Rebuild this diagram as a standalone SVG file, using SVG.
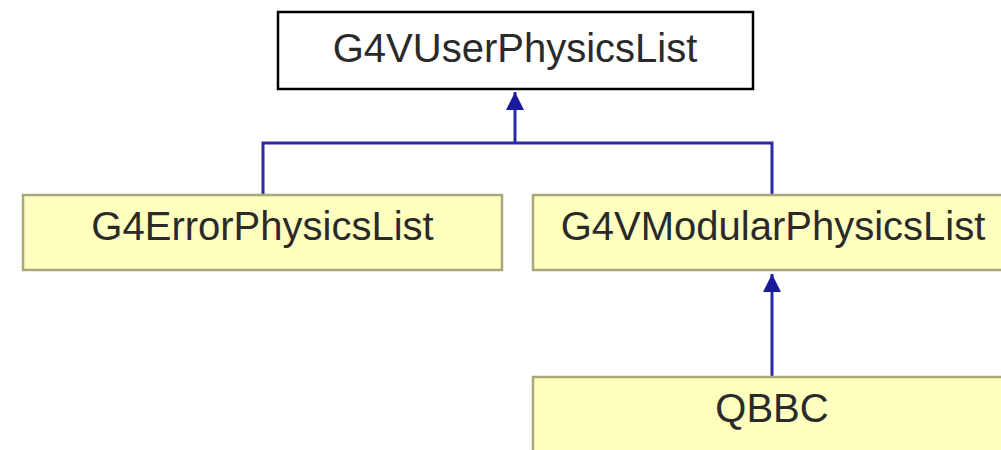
<svg xmlns="http://www.w3.org/2000/svg" width="1001" height="450" viewBox="0 0 1001 450">
<style>
.root{fill:#ffffff;stroke:#000000;stroke-width:2.5}
.node{fill:#ffffc0;stroke:#a8a878;stroke-width:2.5}
.lbl{font-family:"Liberation Sans",Arial,sans-serif;font-size:40px;fill:#2a2a2a;text-anchor:middle}
.edge{fill:none;stroke:#2a2aa8;stroke-width:3}
</style>
<defs>
<marker id="arr" viewBox="0 0 10 10" refX="10" refY="5" markerWidth="6" markerHeight="6" orient="auto" markerUnits="strokeWidth">
<path d="M0,0 L10,5 L0,10 Z" fill="#1a1a9a"/>
</marker>
</defs>
<rect width="1001" height="450" fill="#ffffff"/>
<g id="connectors">
<path class="edge" d="M263,195 V143 H772 V195" />
<path class="edge" d="M515,143 V92" marker-end="url(#arr)"/>
<path class="edge" d="M772,377 V274" marker-end="url(#arr)"/>
</g>
<g id="G4VUserPhysicsList">
<rect class="root" x="278" y="12" width="475" height="77"/>
<text class="lbl" x="515" y="62">G4VUserPhysicsList</text>
</g>
<g id="G4ErrorPhysicsList">
<rect class="node" x="23" y="195" width="479" height="75"/>
<text class="lbl" x="262.5" y="240">G4ErrorPhysicsList</text>
</g>
<g id="G4VModularPhysicsList">
<rect class="node" x="533" y="195" width="479" height="75"/>
<text class="lbl" x="773" y="240">G4VModularPhysicsList</text>
</g>
<g id="QBBC">
<rect class="node" x="533" y="377" width="479" height="80"/>
<text class="lbl" x="772" y="422">QBBC</text>
</g>
</svg>
